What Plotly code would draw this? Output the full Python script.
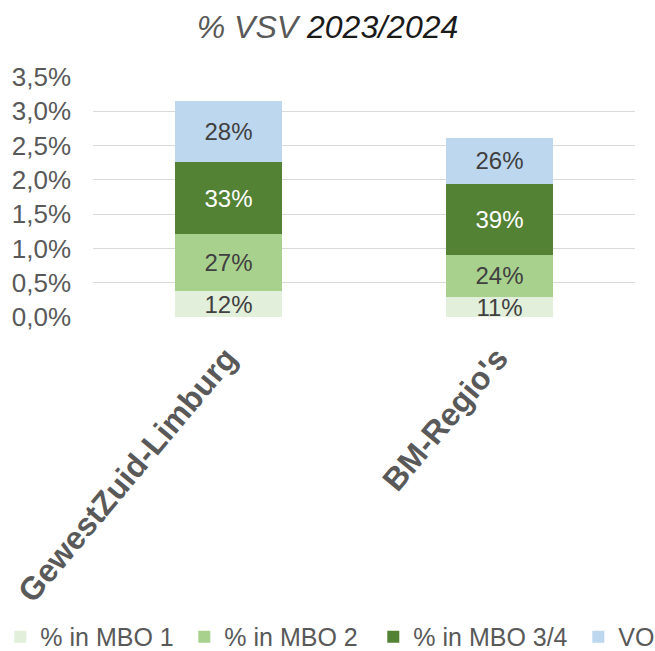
import plotly.graph_objects as go

categories = ["GewestZuid-Limburg", "BM-Regio's"]
series_names = ["% in MBO 1", "% in MBO 2", "% in MBO 3/4", "VO"]
# VSV percentage (of students) per segment
mbo1 = [0.375, 0.29]
mbo2 = [0.84, 0.62]
mbo34 = [1.04, 1.035]
vo = [0.90, 0.67]
# share labels shown inside the bars
mbo1_lbl = ["12%", "11%"]
mbo2_lbl = ["27%", "24%"]
mbo34_lbl = ["33%", "39%"]
vo_lbl = ["28%", "26%"]
y_tick_vals = [0, 0.5, 1.0, 1.5, 2.0, 2.5, 3.0, 3.5]
y_tick_text = ["0,0%", "0,5%", "1,0%", "1,5%", "2,0%", "2,5%", "3,0%", "3,5%"]

colors = ["#E2EFDA", "#A9D18E", "#548235", "#BDD7EE"]
text_colors = ["#404040", "#404040", "#FFFFFF", "#404040"]
legend_widths = [139, 144, 160, 34]

fig = go.Figure()
for name, vals, lbls, c, tc, lw in zip(series_names, [mbo1, mbo2, mbo34, vo],
                                        [mbo1_lbl, mbo2_lbl, mbo34_lbl, vo_lbl],
                                        colors, text_colors, legend_widths):
    fig.add_trace(go.Bar(
        name=name, x=categories, y=vals, text=lbls,
        textposition="inside", insidetextanchor="middle",
        constraintext="none",
        textfont=dict(size=24, color=tc, family="Liberation Sans, Arial"),
        marker=dict(color=c, line=dict(width=0)),
        legendwidth=lw,
    ))

PLOT_W = 655 - 93  # full paper width (right margin 0), axis domain trimmed below
fig.update_layout(
    width=655, height=651,
    barmode="stack", bargap=0.605,
    paper_bgcolor="white", plot_bgcolor="white",
    margin=dict(l=93, r=0, t=77, b=334, autoexpand=False),
    font=dict(family="Liberation Sans, Arial", color="#595959"),
    title=dict(
        text="<i><span style='color:#595959'>% VSV</span> <span style='color:#1a1a1a'>2023/2024</span></i>",
        x=0.5, xref="container", xanchor="center",
        y=1 - 27 / 651, yref="container", yanchor="middle",
        font=dict(size=32, family="Liberation Sans, Arial"),
    ),
    legend=dict(
        orientation="h", x=-92.7 / PLOT_W, xanchor="left", y=-1.333, yanchor="middle",
        font=dict(size=25, color="#595959"),
        traceorder="normal", itemwidth=30,
    ),
    showlegend=True,
)
fig.update_yaxes(
    range=[0, 3.5], tickvals=y_tick_vals, ticktext=y_tick_text,
    showgrid=True, gridcolor="#D9D9D9", gridwidth=1,
    zeroline=False, showline=False,
    tickfont=dict(size=26, color="#595959"),
    ticklabelstandoff=21, automargin=False,
)
fig.update_xaxes(
    domain=[0, 542 / PLOT_W],
    tickangle=-50, showline=False, showgrid=False, automargin=False,
    ticklabelstandoff=15, ticklabelshift=-2,
    tickfont=dict(size=32, color="#595959", family="Liberation Sans, Arial", weight="bold"),
)

fig.write_html(
    "out.html",
    config={"displayModeBar": False},
    post_script="document.body.style.margin='0';document.body.style.overflow='hidden';",
)
